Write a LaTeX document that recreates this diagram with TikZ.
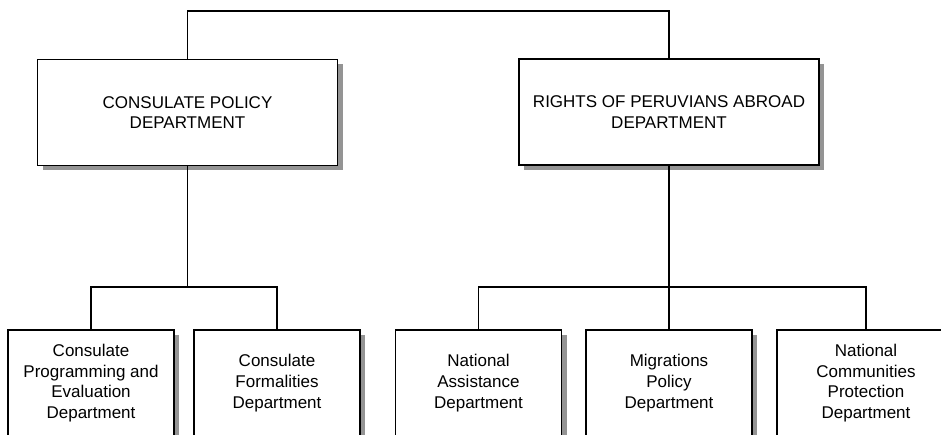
\documentclass[tikz,border=0pt]{standalone}
\usepackage{fontspec}
\setmainfont{Liberation Sans}
\usepackage{tikz}
\usetikzlibrary{shadows}
\usetikzlibrary{positioning}
\tikzset{>=latex}

\begin{document}
\begin{tikzpicture}[
        x=1pt, y=-1pt,
        dept/.style={draw, line width=1.4pt, fill=white, align=center,
            inner sep=0pt, font=\fontsize{17}{20.7}\selectfont,
            drop shadow={shadow xshift=5pt, shadow yshift=-5pt, fill=black!42, opacity=1}},
        topdept/.style={dept, minimum width=300pt, minimum height=106pt},
        subdept/.style={dept, minimum width=166pt, minimum height=106pt},
        link/.style={line width=1.4pt}
    ]

    %=== Page size ===%
    \useasboundingbox (0,0) rectangle (941,435);

    %=== Departments ===%
    \node[topdept] (cpd) at (187.5,112.5) {CONSULATE POLICY\\DEPARTMENT};
    \node[topdept] (rpa) at (669,112) {RIGHTS OF PERUVIANS ABROAD\\DEPARTMENT};

    \node[subdept] (cpe) at (91,383) {Consulate\\Programming and\\Evaluation\\Department};
    \node[subdept] (cfd) at (277,383) {Consulate\\Formalities\\Department};
    \node[subdept] (nad) at (478.5,383) {National\\Assistance\\Department};
    \node[subdept] (mpd) at (669,383) {Migrations\\Policy\\Department};
    \node[subdept, minimum width=178pt] (ncp) at (866,383) {National\\Communities\\Protection\\Department};

    %=== Bus lines ===%
    \coordinate (topbus) at (0,11);
    \coordinate (lbus) at (0,287);

    %=== Connectors ===%
    \draw[link] (cpd.north) |- (topbus -| rpa.north) -- (rpa.north);

    \draw[link] (cpd.south) -- (cpd.south |- lbus);
    \draw[link] (cpe.north) |- (lbus -| cfd.north) -- (cfd.north);

    \draw[link] (rpa.south) -- (mpd.north);
    \draw[link] (nad.north) |- (lbus -| ncp.north) -- (ncp.north);

\end{tikzpicture}
\end{document}
